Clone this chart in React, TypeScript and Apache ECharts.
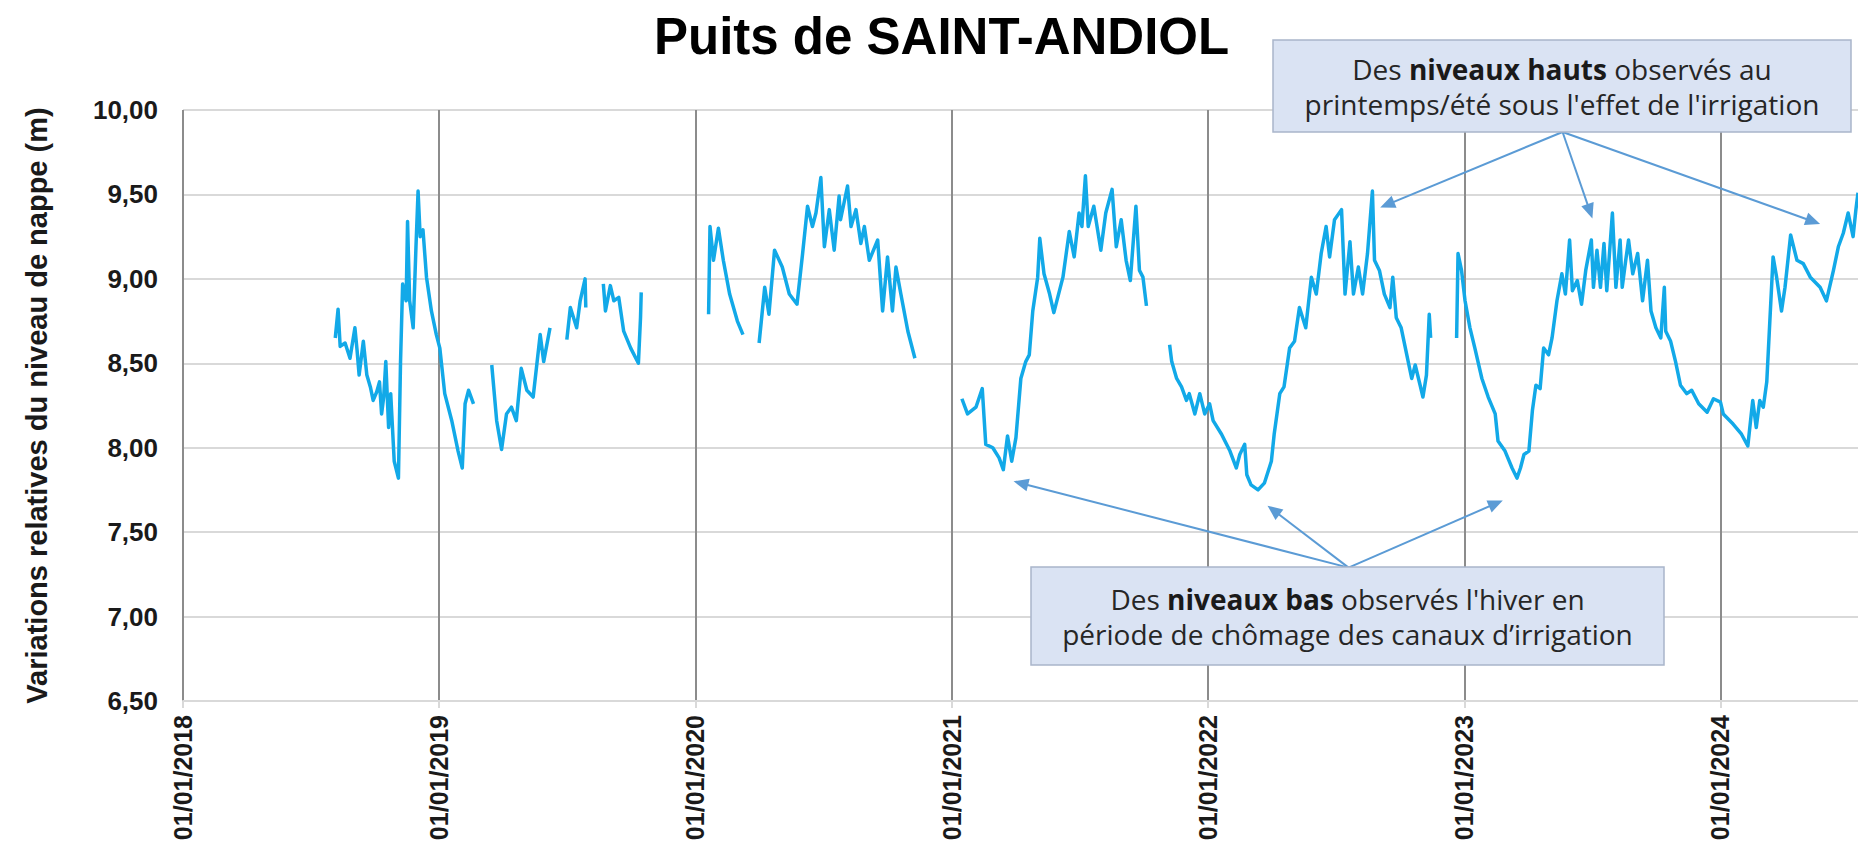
import React, { useEffect, useRef } from 'react';
import * as echarts from 'echarts';

const TITLE = 'Puits de SAINT-ANDIOL';
const Y_AXIS_NAME = 'Variations relatives du niveau de nappe (m)';
const Y_MIN = 6.5;
const Y_MAX = 10;
const Y_STEP = 0.5;
const X_START = '2018-01-01';
const X_END = '2024-07-15';

const HIGH_NOTE_BOLD = 'niveaux hauts';
const HIGH_NOTE = ['Des ', ' observés au', "printemps/été sous l'effet de l'irrigation"];
const LOW_NOTE_BOLD = 'niveaux bas';
const LOW_NOTE = ['Des ', " observés l'hiver en", 'période de chômage des canaux d’irrigation'];

type Pt = [string, number];

const levels2018: Pt[] = [
  ['2018-08-06', 8.65], ['2018-08-10', 8.82], ['2018-08-13', 8.6], ['2018-08-20', 8.62], ['2018-08-27', 8.53],
  ['2018-09-03', 8.71], ['2018-09-06', 8.58], ['2018-09-09', 8.43], ['2018-09-15', 8.63], ['2018-09-20', 8.43],
  ['2018-09-25', 8.36], ['2018-09-29', 8.28], ['2018-10-04', 8.33], ['2018-10-08', 8.39], ['2018-10-11', 8.2],
  ['2018-10-14', 8.3], ['2018-10-17', 8.51], ['2018-10-21', 8.12], ['2018-10-24', 8.32], ['2018-10-29', 7.92],
  ['2018-11-04', 7.82], ['2018-11-07', 8.51], ['2018-11-10', 8.97], ['2018-11-15', 8.87], ['2018-11-17', 9.34],
  ['2018-11-20', 8.87], ['2018-11-25', 8.71], ['2018-11-29', 9.19], ['2018-12-02', 9.52], ['2018-12-05', 9.25],
  ['2018-12-09', 9.29], ['2018-12-14', 9.01], ['2018-12-21', 8.81], ['2018-12-28', 8.67], ['2019-01-02', 8.59],
  ['2019-01-09', 8.32], ['2019-01-19', 8.16], ['2019-01-28', 7.98], ['2019-02-03', 7.88], ['2019-02-07', 8.26],
  ['2019-02-12', 8.34], ['2019-02-19', 8.26],
];

const levels2019Spring: Pt[] = [
  ['2019-03-17', 8.49], ['2019-03-24', 8.16], ['2019-03-31', 7.99], ['2019-04-07', 8.2], ['2019-04-14', 8.24],
  ['2019-04-21', 8.16], ['2019-04-28', 8.47], ['2019-05-06', 8.34], ['2019-05-15', 8.3], ['2019-05-25', 8.67],
  ['2019-05-30', 8.51], ['2019-06-08', 8.71],
];

const levels2019Summer: Pt[] = [
  ['2019-07-02', 8.64], ['2019-07-07', 8.83], ['2019-07-16', 8.71], ['2019-07-21', 8.87], ['2019-07-28', 9.0],
  ['2019-07-29', 8.83],
];

const levels2019Autumn: Pt[] = [
  ['2019-08-23', 8.97], ['2019-08-26', 8.81], ['2019-09-02', 8.96], ['2019-09-07', 8.87], ['2019-09-14', 8.89],
  ['2019-09-21', 8.69], ['2019-10-01', 8.59], ['2019-10-12', 8.5], ['2019-10-15', 8.77], ['2019-10-16', 8.92],
];

const levels2020Winter: Pt[] = [
  ['2020-01-20', 8.79], ['2020-01-22', 9.31], ['2020-01-27', 9.11], ['2020-02-03', 9.3], ['2020-02-10', 9.11],
  ['2020-02-19', 8.91], ['2020-03-01', 8.75], ['2020-03-09', 8.67],
];

const levels2020: Pt[] = [
  ['2020-04-01', 8.62], ['2020-04-09', 8.95], ['2020-04-15', 8.79], ['2020-04-23', 9.17], ['2020-05-04', 9.07],
  ['2020-05-14', 8.91], ['2020-05-25', 8.85], ['2020-06-02', 9.15], ['2020-06-09', 9.43], ['2020-06-16', 9.31],
  ['2020-06-21', 9.39], ['2020-06-28', 9.6], ['2020-07-03', 9.19], ['2020-07-10', 9.41], ['2020-07-17', 9.17],
  ['2020-07-24', 9.49], ['2020-07-26', 9.35], ['2020-08-05', 9.55], ['2020-08-10', 9.31], ['2020-08-17', 9.41],
  ['2020-08-24', 9.21], ['2020-08-29', 9.31], ['2020-09-05', 9.11], ['2020-09-17', 9.23], ['2020-09-24', 8.81],
  ['2020-10-01', 9.13], ['2020-10-08', 8.81], ['2020-10-13', 9.07], ['2020-10-20', 8.91], ['2020-10-30', 8.69],
  ['2020-11-09', 8.53],
];

const levels2021: Pt[] = [
  ['2021-01-15', 8.29], ['2021-01-23', 8.2], ['2021-02-04', 8.24], ['2021-02-13', 8.35], ['2021-02-18', 8.02],
  ['2021-02-28', 8.0], ['2021-03-09', 7.94], ['2021-03-15', 7.87], ['2021-03-21', 8.07], ['2021-03-27', 7.92],
  ['2021-04-02', 8.06], ['2021-04-09', 8.41], ['2021-04-16', 8.51], ['2021-04-21', 8.55], ['2021-04-26', 8.81],
  ['2021-05-03', 9.01], ['2021-05-06', 9.24], ['2021-05-12', 9.03], ['2021-05-20', 8.91], ['2021-05-26', 8.8],
  ['2021-06-08', 9.01], ['2021-06-17', 9.28], ['2021-06-24', 9.13], ['2021-07-01', 9.39], ['2021-07-05', 9.31],
  ['2021-07-10', 9.61], ['2021-07-14', 9.31], ['2021-07-22', 9.43], ['2021-08-01', 9.17], ['2021-08-08', 9.39],
  ['2021-08-17', 9.53], ['2021-08-23', 9.19], ['2021-08-30', 9.35], ['2021-09-06', 9.11], ['2021-09-12', 8.99],
  ['2021-09-20', 9.43], ['2021-09-25', 9.05], ['2021-09-30', 9.01], ['2021-10-05', 8.84],
];

const levels2022: Pt[] = [
  ['2021-11-07', 8.61], ['2021-11-10', 8.51], ['2021-11-17', 8.41], ['2021-11-24', 8.36], ['2021-12-01', 8.28],
  ['2021-12-05', 8.32], ['2021-12-13', 8.2], ['2021-12-20', 8.32], ['2021-12-27', 8.2], ['2022-01-03', 8.26],
  ['2022-01-08', 8.16], ['2022-01-20', 8.08], ['2022-02-01', 7.98], ['2022-02-10', 7.88], ['2022-02-15', 7.96],
  ['2022-02-22', 8.02], ['2022-02-25', 7.84], ['2022-03-03', 7.78], ['2022-03-13', 7.75], ['2022-03-22', 7.79],
  ['2022-04-01', 7.92], ['2022-04-05', 8.08], ['2022-04-13', 8.32], ['2022-04-19', 8.36], ['2022-04-27', 8.59],
  ['2022-05-04', 8.63], ['2022-05-11', 8.83], ['2022-05-20', 8.71], ['2022-05-28', 9.01], ['2022-06-04', 8.91],
  ['2022-06-11', 9.15], ['2022-06-18', 9.31], ['2022-06-23', 9.13], ['2022-06-30', 9.35], ['2022-07-10', 9.41],
  ['2022-07-15', 8.91], ['2022-07-22', 9.22], ['2022-07-27', 8.91], ['2022-08-03', 9.07], ['2022-08-09', 8.91],
  ['2022-08-16', 9.15], ['2022-08-23', 9.52], ['2022-08-26', 9.11], ['2022-09-02', 9.05], ['2022-09-09', 8.91],
  ['2022-09-17', 8.83], ['2022-09-21', 9.01], ['2022-09-26', 8.77], ['2022-10-03', 8.71], ['2022-10-11', 8.55],
  ['2022-10-18', 8.41], ['2022-10-23', 8.49], ['2022-10-30', 8.37], ['2022-11-03', 8.3], ['2022-11-08', 8.43],
  ['2022-11-12', 8.79], ['2022-11-14', 8.65],
];

const levels2023: Pt[] = [
  ['2022-12-21', 8.65], ['2022-12-23', 9.15], ['2022-12-28', 9.05], ['2023-01-02', 8.87], ['2023-01-09', 8.71],
  ['2023-01-16', 8.59], ['2023-01-26', 8.41], ['2023-02-04', 8.3], ['2023-02-14', 8.2], ['2023-02-18', 8.04],
  ['2023-02-28', 7.98], ['2023-03-10', 7.88], ['2023-03-17', 7.82], ['2023-03-22', 7.88], ['2023-03-27', 7.96],
  ['2023-04-03', 7.98], ['2023-04-08', 8.22], ['2023-04-13', 8.37], ['2023-04-19', 8.35], ['2023-04-24', 8.59],
  ['2023-05-01', 8.55], ['2023-05-06', 8.65], ['2023-05-13', 8.87], ['2023-05-20', 9.03], ['2023-05-25', 8.91],
  ['2023-05-31', 9.23], ['2023-06-04', 8.93], ['2023-06-11', 8.99], ['2023-06-17', 8.85], ['2023-06-23', 9.05],
  ['2023-07-01', 9.23], ['2023-07-04', 8.95], ['2023-07-09', 9.17], ['2023-07-14', 8.95], ['2023-07-19', 9.21],
  ['2023-07-23', 8.93], ['2023-07-31', 9.39], ['2023-08-05', 8.95], ['2023-08-11', 9.23], ['2023-08-14', 8.95],
  ['2023-08-19', 9.11], ['2023-08-23', 9.23], ['2023-08-29', 9.03], ['2023-09-05', 9.15], ['2023-09-12', 8.87],
  ['2023-09-19', 9.11], ['2023-09-24', 8.81], ['2023-10-01', 8.71], ['2023-10-08', 8.65], ['2023-10-13', 8.95],
  ['2023-10-15', 8.69], ['2023-10-22', 8.63], ['2023-10-29', 8.51], ['2023-11-05', 8.37], ['2023-11-14', 8.32],
  ['2023-11-21', 8.34], ['2023-12-01', 8.26], ['2023-12-13', 8.21], ['2023-12-22', 8.29], ['2024-01-01', 8.27],
  ['2024-01-05', 8.2], ['2024-01-19', 8.14], ['2024-01-31', 8.08], ['2024-02-09', 8.01], ['2024-02-16', 8.28],
  ['2024-02-21', 8.12], ['2024-02-26', 8.28], ['2024-03-02', 8.24], ['2024-03-07', 8.39], ['2024-03-16', 9.13],
  ['2024-03-21', 9.01], ['2024-03-28', 8.81], ['2024-04-02', 8.95], ['2024-04-10', 9.26], ['2024-04-19', 9.11],
  ['2024-04-28', 9.09], ['2024-05-08', 9.01], ['2024-05-22', 8.95], ['2024-05-31', 8.87], ['2024-06-10', 9.05],
  ['2024-06-17', 9.19], ['2024-06-24', 9.27], ['2024-07-01', 9.39], ['2024-07-08', 9.25], ['2024-07-12', 9.41],
  ['2024-07-15', 9.51],
];

const SEGMENTS: Pt[][] = [
  levels2018, levels2019Spring, levels2019Summer, levels2019Autumn,
  levels2020Winter, levels2020, levels2021, levels2022, levels2023,
];

// Annotation arrows (data coordinates): from the box edge to each highlighted season.
const highArrowFrom: Pt = ['2023-05-21', 9.87];
const highArrowTargets: Pt[] = [['2022-09-13', 9.44], ['2023-06-29', 9.4], ['2024-05-12', 9.34]];
const lowArrowFrom: Pt = ['2022-07-20', 7.29];
const lowArrowTargets: Pt[] = [['2021-04-09', 7.79], ['2022-04-04', 7.63], ['2023-02-15', 7.67]];

const FONT = '"Liberation Sans", Arial, Helvetica, sans-serif';
const NOTE_FONT = '"Open Sans", "Noto Sans", sans-serif';
const DAY = 86400000;

const toTime = (s: string) => new Date(s + 'T00:00:00').getTime();
const pad = (n: number) => String(n).padStart(2, '0');

function buildLine(): [number, number | null][] {
  const out: [number, number | null][] = [];
  SEGMENTS.forEach((seg, i) => {
    if (i > 0) out.push([toTime(seg[0][0]), null]);
    seg.forEach(([d, v]) => out.push([toTime(d), v]));
  });
  return out;
}

function arrows(from: Pt, targets: Pt[]) {
  return targets.map((t) => [
    { coord: [toTime(from[0]), from[1]] },
    { coord: [toTime(t[0]), t[1]] },
  ]);
}

function noteBox(x: number, y: number, w: number, h: number, lines: string[], bold: string) {
  return {
    type: 'group',
    z: 100,
    children: [
      {
        type: 'rect',
        z: 100,
        shape: { x, y, width: w, height: h },
        style: { fill: '#dae3f3', stroke: '#a9b5ca', lineWidth: 1.5 },
      },
      {
        type: 'text',
        z: 101,
        x: x + w / 2,
        y: y + h / 2,
        style: {
          text: `${lines[0]}{b|${bold}}${lines[1]}\n${lines[2]}`,
          align: 'center',
          verticalAlign: 'middle',
          fontSize: 28,
          lineHeight: 35,
          fontFamily: NOTE_FONT,
          fill: '#262626',
          rich: {
            b: { fontWeight: 'bold', fontSize: 28, lineHeight: 35, fontFamily: NOTE_FONT, fill: '#1a1a1a' },
          },
        },
      },
    ],
  };
}

export default function App() {
  const ref = useRef<HTMLDivElement>(null);

  useEffect(() => {
    if (!ref.current) return;
    const chart = echarts.init(ref.current, undefined, { renderer: 'svg' });
    const option: any = {
      animation: false,
      backgroundColor: '#ffffff',
      textStyle: { fontFamily: FONT },
      title: {
        text: TITLE,
        left: 654,
        top: 11,
        padding: 0,
        textStyle: { fontSize: 51, fontWeight: 'bold', color: '#000000', fontFamily: FONT },
      },
      grid: { left: 183, right: 0, top: 110, bottom: 142, containLabel: false, outerBoundsMode: 'none' },
      xAxis: {
        type: 'time',
        min: toTime(X_START),
        max: toTime(X_END),
        splitNumber: 7,
        minInterval: 365 * DAY,
        maxInterval: 366 * DAY,
        axisLine: { show: true, lineStyle: { color: '#d9d9d9', width: 2 } },
        axisTick: { show: true, length: 7, lineStyle: { color: '#d9d9d9', width: 2 } },
        splitLine: { show: true, showMinLine: true, showMaxLine: false, lineStyle: { color: '#8c8c8c', width: 2 } },
        axisLabel: {
          rotate: 90,
          margin: 14,
          fontSize: 25,
          fontWeight: 'bold',
          color: '#1a1a1a',
          fontFamily: FONT,
          hideOverlap: false,
          showMaxLabel: false,
          formatter: (v: number) => {
            const d = new Date(v);
            if (d.getMonth() !== 0 || d.getDate() !== 1) return '';
            return `${pad(d.getDate())}/${pad(d.getMonth() + 1)}/${d.getFullYear()}`;
          },
        },
      },
      yAxis: {
        type: 'value',
        min: Y_MIN,
        max: Y_MAX,
        interval: Y_STEP,
        name: Y_AXIS_NAME,
        nameLocation: 'middle',
        nameGap: 132,
        nameTextStyle: { fontSize: 29, fontWeight: 'bold', color: '#1a1a1a', fontFamily: FONT },
        axisLine: { show: false },
        axisTick: { show: false },
        splitLine: { show: true, lineStyle: { color: '#d9d9d9', width: 2 } },
        axisLabel: {
          margin: 25,
          fontSize: 26,
          fontWeight: 'bold',
          color: '#1a1a1a',
          fontFamily: FONT,
          formatter: (v: number) => v.toFixed(2).replace('.', ','),
        },
      },
      series: [
        {
          type: 'line',
          name: 'Niveau de nappe',
          data: buildLine(),
          showSymbol: false,
          symbol: 'none',
          connectNulls: false,
          lineStyle: { color: '#12a9e8', width: 3.5, join: 'round' },
          itemStyle: { color: '#12a9e8' },
          z: 3,
          markLine: {
            silent: true,
            symbol: ['none', 'triangle'],
            symbolSize: [13, 15],
            label: { show: false },
            emphasis: { disabled: true },
            lineStyle: { color: '#5b9bd5', width: 2, type: 'solid' },
            data: [...arrows(highArrowFrom, highArrowTargets), ...arrows(lowArrowFrom, lowArrowTargets)],
          },
        },
      ],
      graphic: [
        noteBox(1273, 40, 578, 92, HIGH_NOTE, HIGH_NOTE_BOLD),
        noteBox(1031, 567, 633, 98, LOW_NOTE, LOW_NOTE_BOLD),
      ],
    };
    chart.setOption(option);
    return () => chart.dispose();
  }, []);

  return (
    <div
      ref={ref}
      style={{ position: 'absolute', left: 0, top: 0, width: 1858, height: 843, background: '#fff' }}
    />
  );
}
